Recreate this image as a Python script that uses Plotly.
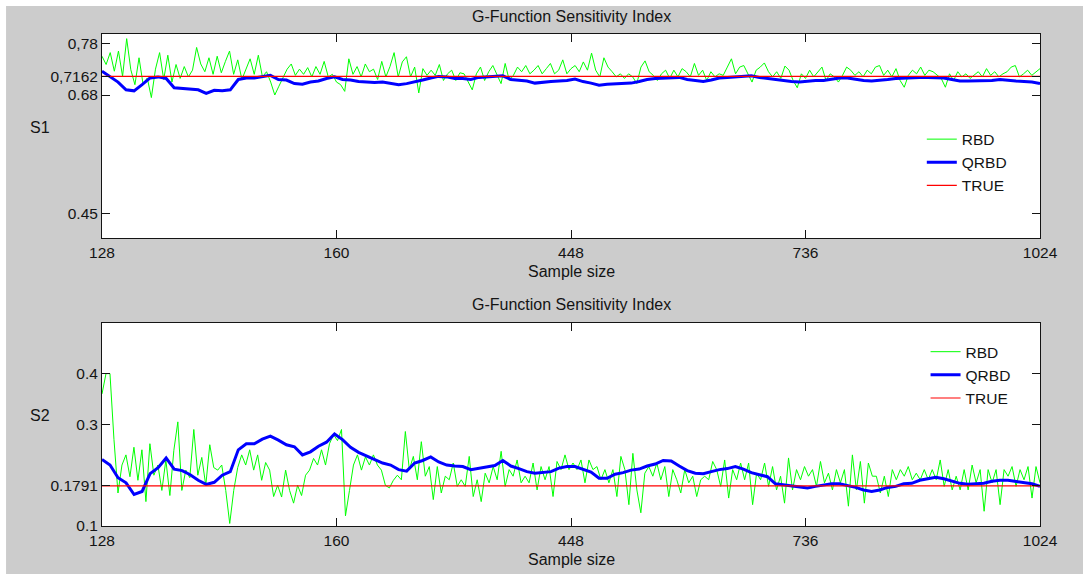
import numpy as np
import plotly.graph_objects as go

# ---- axis labelling -------------------------------------------------------
X_TICK_POS = [128, 352, 576, 800, 1024]
X_TICK_TEXT = ["128", "160", "448", "736", "1024"]

S1_TRUE = 0.7162
S2_TRUE = 0.1791

S1_TICKS = [0.45, 0.68, S1_TRUE, 0.78]
S1_TICK_TEXT = ["0.45", "0.68", "0,7162", "0,78"]
S2_TICKS = [0.1, S2_TRUE, 0.3, 0.4]
S2_TICK_TEXT = ["0.1", "0.1791", "0.3", "0.4"]

# ---- first-order index S1 -------------------------------------------------
s1_rbd = [
    0.755, 0.739, 0.762, 0.726, 0.765, 0.716, 0.789, 0.729, 0.700, 0.752,
    0.700, 0.713, 0.675, 0.730, 0.762, 0.710, 0.757, 0.705, 0.739, 0.712,
    0.735, 0.715, 0.728, 0.772, 0.740, 0.725, 0.752, 0.720, 0.755, 0.723,
    0.745, 0.765, 0.720, 0.748, 0.710, 0.730, 0.750, 0.720, 0.757, 0.715,
    0.725, 0.705, 0.680, 0.697, 0.715, 0.730, 0.740, 0.718, 0.730, 0.720,
    0.733, 0.715, 0.735, 0.720, 0.745, 0.715, 0.720, 0.705, 0.700, 0.687,
    0.750, 0.720, 0.735, 0.715, 0.740, 0.725, 0.730, 0.710, 0.745, 0.715,
    0.735, 0.762,
    0.715, 0.744, 0.754, 0.715, 0.734, 0.684, 0.731, 0.718, 0.728, 0.718,
    0.739, 0.708, 0.721, 0.728, 0.708, 0.723, 0.721, 0.705, 0.690, 0.721,
    0.734, 0.708, 0.725, 0.737, 0.718, 0.702, 0.741, 0.708, 0.718, 0.734,
    0.725, 0.737, 0.721, 0.728, 0.737, 0.721, 0.731, 0.741, 0.721, 0.728,
    0.748, 0.721, 0.731, 0.737, 0.725, 0.744, 0.728, 0.761, 0.728, 0.715,
    0.752, 0.734, 0.725, 0.715, 0.721, 0.712, 0.721, 0.715, 0.702, 0.734,
    0.746, 0.725, 0.718, 0.708, 0.721, 0.728, 0.712, 0.728, 0.715, 0.731,
    0.725, 0.715, 0.741, 0.718, 0.728, 0.708, 0.725, 0.715, 0.721, 0.718,
    0.734, 0.750, 0.721, 0.734, 0.737, 0.721, 0.705, 0.728, 0.734, 0.742,
    0.725, 0.715, 0.725, 0.712, 0.736, 0.728, 0.708, 0.694, 0.721, 0.712,
    0.728, 0.715, 0.725, 0.734, 0.708, 0.721, 0.715, 0.705, 0.718, 0.734,
    0.728, 0.718, 0.725, 0.715, 0.728, 0.721, 0.734, 0.737, 0.718, 0.728,
    0.715, 0.731, 0.708, 0.695, 0.718, 0.728, 0.721, 0.734, 0.718, 0.728,
    0.725, 0.718, 0.712, 0.695, 0.721, 0.708, 0.725, 0.715, 0.721, 0.712,
    0.718, 0.725, 0.715, 0.731, 0.718, 0.725, 0.715, 0.721, 0.725, 0.734,
    0.737, 0.715, 0.721, 0.728, 0.718, 0.725, 0.731,
]

s1_qrbd = [
    0.726, 0.716, 0.705, 0.690, 0.688, 0.700, 0.713, 0.715, 0.712, 0.694,
    0.693, 0.692, 0.690, 0.683, 0.689, 0.688, 0.690, 0.710, 0.713, 0.713,
    0.716, 0.718, 0.710, 0.709, 0.702, 0.701, 0.705, 0.707, 0.712, 0.715,
    0.710, 0.709, 0.706, 0.705, 0.704, 0.705, 0.703, 0.700,
    0.702, 0.705, 0.709, 0.713, 0.716, 0.715, 0.712, 0.712, 0.710, 0.714,
    0.715, 0.715, 0.717, 0.710, 0.708, 0.707, 0.703, 0.705, 0.706, 0.707,
    0.708, 0.711, 0.706, 0.703, 0.699, 0.701, 0.702, 0.702, 0.703, 0.706,
    0.710, 0.712, 0.713, 0.714, 0.714, 0.710, 0.708, 0.706, 0.709, 0.713,
    0.714, 0.715, 0.715, 0.717, 0.714, 0.712, 0.710, 0.707, 0.706, 0.705,
    0.707, 0.708, 0.708, 0.710, 0.713, 0.713, 0.710, 0.708, 0.707, 0.708,
    0.710, 0.712, 0.713, 0.714, 0.714, 0.714, 0.714, 0.713, 0.710, 0.707,
    0.707, 0.707, 0.708, 0.708, 0.710, 0.708, 0.707, 0.706, 0.705, 0.702,
]

# ---- second-order index S2 ------------------------------------------------
s2_rbd = [
    0.360, 0.400, 0.400, 0.270, 0.165, 0.220, 0.240, 0.197, 0.255, 0.190,
    0.250, 0.148, 0.262, 0.200, 0.220, 0.170, 0.230, 0.160, 0.249, 0.305,
    0.170, 0.210, 0.195, 0.290, 0.200, 0.235, 0.180, 0.260, 0.215, 0.210,
    0.220, 0.170, 0.105, 0.170, 0.215, 0.240, 0.220, 0.250, 0.210, 0.240,
    0.190, 0.225, 0.210, 0.158, 0.180, 0.157, 0.210, 0.170, 0.145, 0.180,
    0.160, 0.200, 0.210, 0.233, 0.220, 0.250, 0.220, 0.262, 0.280, 0.268,
    0.290, 0.120, 0.170, 0.220, 0.240, 0.210, 0.236, 0.220, 0.240, 0.220,
    0.210, 0.180, 0.175, 0.190, 0.200,
    0.191, 0.286, 0.211, 0.237, 0.191, 0.266, 0.198, 0.217, 0.152, 0.217,
    0.165, 0.198, 0.191, 0.224, 0.178, 0.191, 0.178, 0.237, 0.158, 0.191,
    0.148, 0.204, 0.185, 0.217, 0.191, 0.247, 0.178, 0.211, 0.198, 0.230,
    0.185, 0.198, 0.185, 0.224, 0.171, 0.217, 0.191, 0.217, 0.158, 0.227,
    0.211, 0.240, 0.211, 0.224, 0.211, 0.230, 0.185, 0.230, 0.211, 0.217,
    0.191, 0.211, 0.185, 0.211, 0.158, 0.237, 0.211, 0.142, 0.243, 0.171,
    0.126, 0.204, 0.217, 0.198, 0.224, 0.191, 0.217, 0.158, 0.211, 0.191,
    0.165, 0.211, 0.185, 0.198, 0.158, 0.191, 0.198, 0.191, 0.227,
    0.211, 0.178, 0.230, 0.155, 0.211, 0.191, 0.224, 0.191, 0.224, 0.142,
    0.204, 0.191, 0.224, 0.178, 0.217, 0.171, 0.198, 0.145, 0.234, 0.171,
    0.211, 0.191, 0.217, 0.198, 0.211, 0.178, 0.227, 0.185, 0.204, 0.171,
    0.211, 0.185, 0.211, 0.139, 0.240, 0.171, 0.227, 0.145, 0.224, 0.198,
    0.198, 0.165, 0.198, 0.158, 0.211, 0.191, 0.211, 0.198, 0.217, 0.191,
    0.204, 0.191, 0.211, 0.191, 0.211, 0.191, 0.230, 0.178, 0.211, 0.171,
    0.198, 0.171, 0.211, 0.171, 0.220, 0.185, 0.211, 0.129, 0.211, 0.185,
    0.211, 0.142, 0.211, 0.198, 0.217, 0.178, 0.211, 0.191, 0.217, 0.155,
    0.217, 0.185,
]

s2_qrbd = [
    0.231, 0.220, 0.195, 0.185, 0.162, 0.168, 0.203, 0.215, 0.234, 0.212,
    0.209, 0.201, 0.190, 0.182, 0.186, 0.200, 0.207, 0.250, 0.262, 0.262,
    0.271, 0.277, 0.269, 0.260, 0.256, 0.240, 0.246, 0.257, 0.265, 0.281,
    0.270, 0.255, 0.245, 0.238, 0.232, 0.224, 0.220, 0.211,
    0.208, 0.224, 0.229, 0.236, 0.226, 0.220, 0.218, 0.217, 0.211, 0.214,
    0.216, 0.219, 0.229, 0.218, 0.213, 0.207, 0.204, 0.205, 0.207, 0.214,
    0.217, 0.217, 0.211, 0.206, 0.194, 0.194, 0.202, 0.205, 0.210, 0.212,
    0.218, 0.222, 0.229, 0.228, 0.218, 0.209, 0.204, 0.203, 0.207, 0.211,
    0.213, 0.217, 0.212, 0.205, 0.201, 0.197, 0.183, 0.181, 0.178, 0.176,
    0.175, 0.178, 0.181, 0.183, 0.183, 0.180, 0.176, 0.171, 0.168, 0.171,
    0.176, 0.178, 0.183, 0.184, 0.190, 0.193, 0.196, 0.193, 0.188, 0.184,
    0.182, 0.183, 0.184, 0.188, 0.190, 0.190, 0.188, 0.186, 0.183, 0.178,
]


def sample_grid(values):
    """Sample sizes spanning the 128..1024 design range."""
    return np.linspace(X_TICK_POS[0], X_TICK_POS[-1], len(values))


FONT = "Liberation Sans, Arial, sans-serif"
INK = "#141414"
GREEN = "#00ff00"
BLUE = "#0000ff"
RED = "#ff0000"

fig = go.Figure()

panels = [
    ("x", "y", "legend", s1_rbd, s1_qrbd, S1_TRUE),
    ("x2", "y2", "legend2", s2_rbd, s2_qrbd, S2_TRUE),
]
for xa, ya, lg, rbd, qrbd, true_val in panels:
    fig.add_trace(go.Scatter(
        x=sample_grid(rbd), y=rbd, mode="lines", name="RBD",
        line=dict(color=GREEN, width=1), xaxis=xa, yaxis=ya, legend=lg,
    ))
    fig.add_trace(go.Scatter(
        x=sample_grid(qrbd), y=qrbd, mode="lines", name="QRBD",
        line=dict(color=BLUE, width=3), xaxis=xa, yaxis=ya, legend=lg,
    ))
    fig.add_trace(go.Scatter(
        x=[X_TICK_POS[0], X_TICK_POS[-1]], y=[true_val, true_val],
        mode="lines", name="TRUE",
        line=dict(color=RED, width=1.2), xaxis=xa, yaxis=ya, legend=lg,
    ))

axis_common = dict(
    showline=True, linecolor=INK, linewidth=1, mirror="ticks",
    ticks="inside", ticklen=8, tickwidth=1, tickcolor=INK,
    showgrid=False, zeroline=False,
    tickfont=dict(family=FONT, size=15.5, color=INK),
)

legend_common = dict(
    xanchor="left", yanchor="top", bgcolor="rgba(0,0,0,0)",
    borderwidth=0, traceorder="normal",
    font=dict(family=FONT, size=15.5, color=INK),
)

fig.update_layout(
    width=1083, height=574,
    margin=dict(l=102, r=43, t=34, b=48),
    paper_bgcolor="#cccccc", plot_bgcolor="#ffffff",
    showlegend=True,
    xaxis=dict(axis_common, domain=[0, 1], anchor="y", range=[128, 1024],
               tickvals=X_TICK_POS, ticktext=X_TICK_TEXT),
    yaxis=dict(axis_common, domain=[0.585, 1.0], anchor="x",
               range=[0.403, 0.798], tickvals=S1_TICKS, ticktext=S1_TICK_TEXT),
    xaxis2=dict(axis_common, domain=[0, 1], anchor="y2", range=[128, 1024],
                tickvals=X_TICK_POS, ticktext=X_TICK_TEXT),
    yaxis2=dict(axis_common, domain=[0, 0.413], anchor="x2",
                range=[0.1, 0.5], tickvals=S2_TICKS, ticktext=S2_TICK_TEXT),
    legend=dict(legend_common, x=0.874, y=0.82),
    legend2=dict(legend_common, x=0.878, y=0.388),
)

label_font = dict(family=FONT, size=16, color=INK)
for text, x, y in [
    ("G-Function Sensitivity Index", 0.5, 1.0346),
    ("Sample size", 0.5, 0.5163),
    ("G-Function Sensitivity Index", 0.5, 0.4512),
    ("Sample size", 0.5, -0.0671),
    ("S1", -0.0661, 0.809),
    ("S2", -0.0661, 0.2256),
]:
    fig.add_annotation(text=text, x=x, y=y, xref="paper", yref="paper",
                       xanchor="center", yanchor="middle", showarrow=False,
                       font=label_font)

# thin white frame along the top and left edges of the figure
fig.add_shape(type="rect", xref="paper", yref="paper",
              x0=-0.12, x1=1.06, y0=1.0569, y1=1.08,
              fillcolor="#ffffff", line=dict(width=0), layer="above")
fig.add_shape(type="rect", xref="paper", yref="paper",
              x0=-0.12, x1=-0.1023, y0=-0.12, y1=1.08,
              fillcolor="#ffffff", line=dict(width=0), layer="above")

fig.write_html("out.html")
